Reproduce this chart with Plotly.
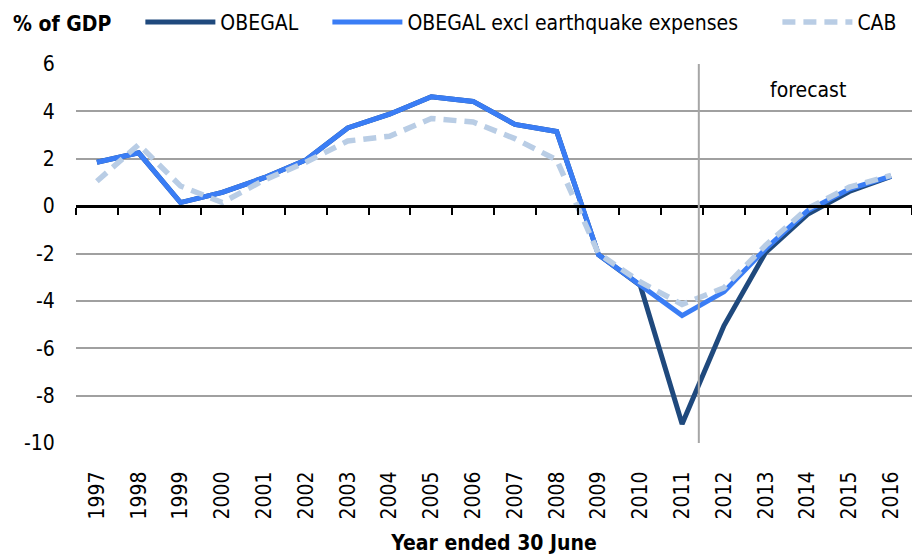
import plotly.graph_objects as go

# Fiscal balance, % of GDP, year ended 30 June
years = list(range(1997, 2017))
obegal = [1.85, 2.25, 0.15, 0.58, 1.2, 1.95, 3.3, 3.88, 4.62, 4.42, 3.45, 3.15,
          -2.05, -3.35, -9.2, -5.05, -1.95, -0.35, 0.62, 1.25]
obegal_excl = [1.85, 2.25, 0.15, 0.58, 1.2, 1.95, 3.3, 3.88, 4.62, 4.42, 3.45, 3.15,
               -2.05, -3.35, -4.62, -3.62, -1.8, -0.2, 0.72, 1.27]
cab = [1.05, 2.6, 0.85, 0.15, 1.1, 1.85, 2.75, 2.95, 3.7, 3.55, 2.85, 1.95,
       -2.0, -3.2, -4.15, -3.45, -1.65, -0.1, 0.8, 1.3]
y_ticks = [6, 4, 2, 0, -2, -4, -6, -8, -10]

forecast_start = 2011.4
font_family = "Liberation Sans Narrow, DejaVu Sans Condensed, Arial Narrow, sans-serif"

fig = go.Figure()
fig.add_trace(go.Scatter(x=years, y=obegal, name="OBEGAL", mode="lines", legend="legend",
                         line=dict(color="#1F497D", width=5)))
fig.add_trace(go.Scatter(x=years, y=obegal_excl, name="OBEGAL excl earthquake expenses",
                         mode="lines", legend="legend2",
                         line=dict(color="#3A7DF5", width=5)))
fig.add_trace(go.Scatter(x=years, y=cab, name="CAB", mode="lines", legend="legend3",
                         line=dict(color="#B9CDE5", width=5.5, dash="13px,8px")))
# helper trace so the zero-line axis has something to draw with
fig.add_trace(go.Scatter(x=years, y=[None] * len(years), xaxis="x2",
                         showlegend=False, hoverinfo="skip"))

# forecast divider
fig.add_shape(type="line", xref="x", yref="y", x0=forecast_start, x1=forecast_start,
              y0=-10, y1=6, line=dict(color="#A6A6A6", width=2))
fig.add_annotation(x=2014, y=4.9, xref="x", yref="y", text="forecast", showarrow=False,
                   font=dict(size=21, color="#000000"))
fig.add_annotation(x=-0.078, y=1.105, xref="paper", yref="paper", text="<b>% of GDP</b>",
                   showarrow=False, xanchor="left", yanchor="middle",
                   font=dict(size=21, color="#000000"))

legend_style = dict(orientation="h", y=1.11, xanchor="left", yanchor="middle",
                    itemwidth=70, font=dict(size=21), bgcolor="rgba(0,0,0,0)")

fig.update_layout(
    width=912, height=556,
    margin=dict(l=76, r=0, t=64, b=113, autoexpand=False),
    paper_bgcolor="white", plot_bgcolor="white",
    font=dict(family=font_family, size=21, color="#000000"),
    showlegend=True,
    legend=dict(x=0.077, **legend_style),
    legend2=dict(x=0.3007, **legend_style),
    legend3=dict(x=0.839, **legend_style),
    xaxis=dict(range=[1996.5, 2016.5], tickvals=years, ticktext=[str(y) for y in years],
               tickangle=-90, showgrid=False, showline=False, zeroline=False,
               ticks="outside", ticklen=19, tickcolor="rgba(0,0,0,0)", automargin=False,
               title=dict(text="<b>Year ended 30 June</b>", font=dict(size=21), standoff=16)),
    xaxis2=dict(overlaying="x", anchor="free", position=10 / 16, side="bottom",
                range=[1996.5, 2016.5], tickvals=[y - 0.5 for y in years] + [2016.5],
                ticks="outside", ticklen=7, tickwidth=2, tickcolor="#000000",
                showticklabels=False, showline=True, linewidth=2.5, linecolor="#000000",
                showgrid=False, zeroline=False),
    yaxis=dict(range=[-10, 6], tickvals=y_ticks, ticktext=[str(v) for v in y_ticks],
               showgrid=True, gridcolor="#A0A0A0", gridwidth=1.5, automargin=False,
               zeroline=False, showline=False, ticks="outside", ticklen=16,
               tickcolor="rgba(0,0,0,0)"),
)

fig.write_html("out.html", config={"displayModeBar": False},
               post_script="document.body.style.margin = '0';")
